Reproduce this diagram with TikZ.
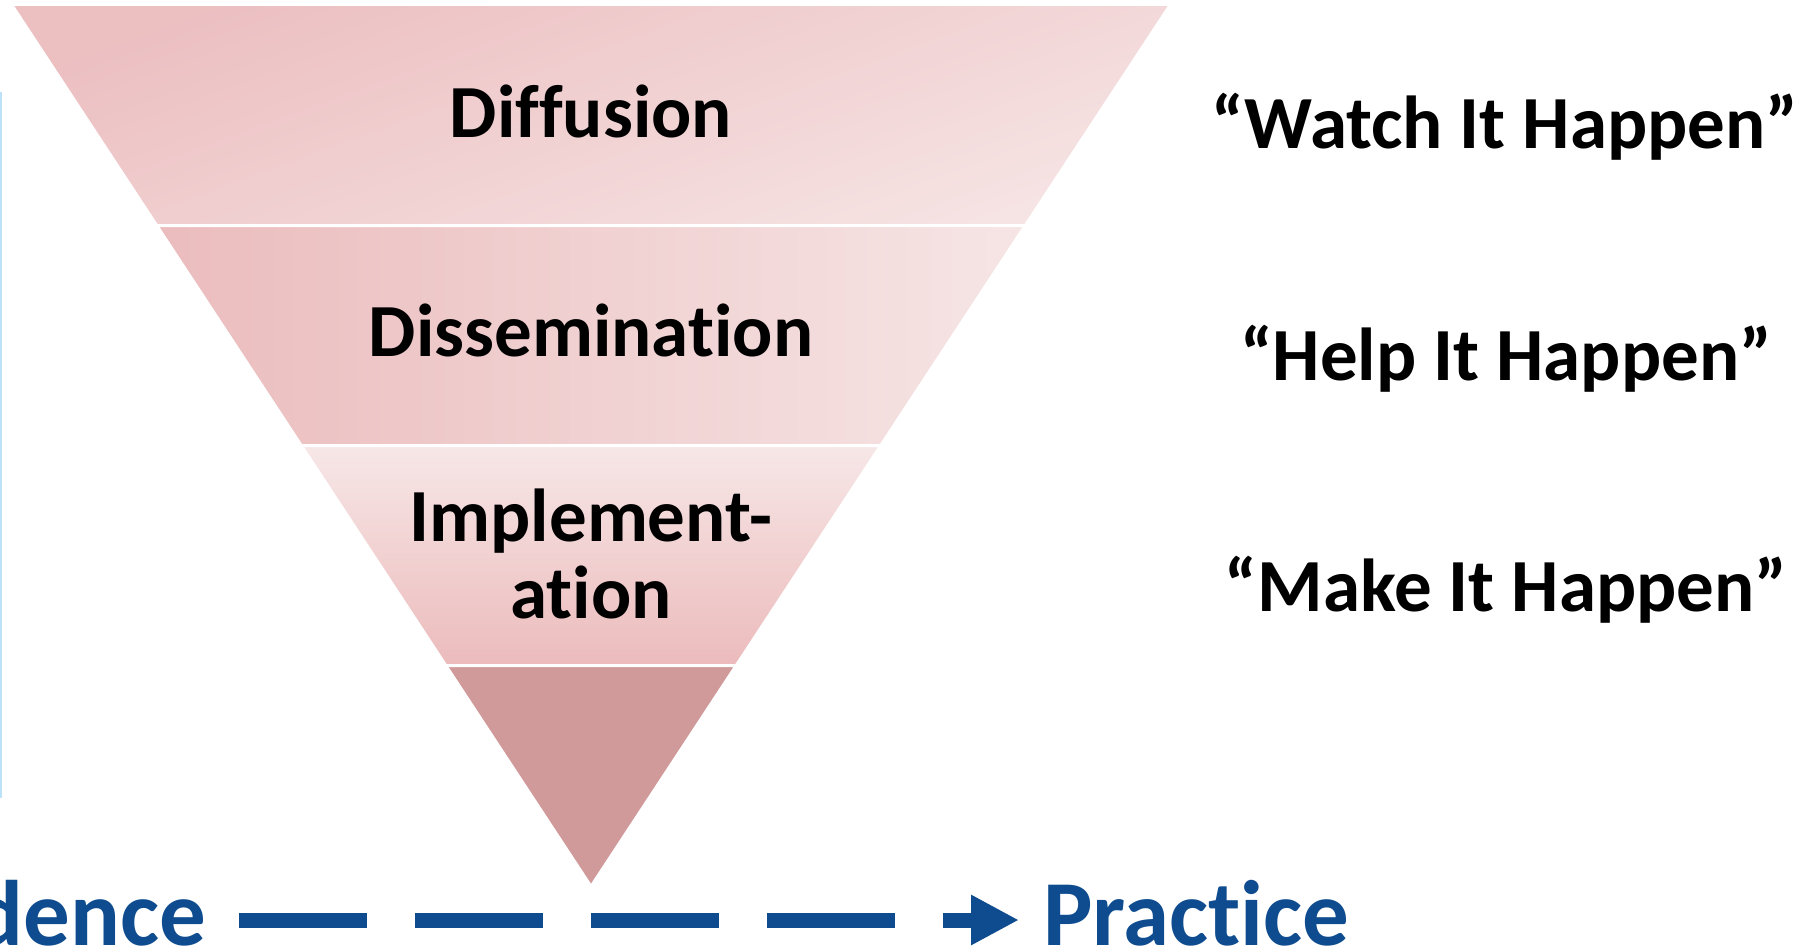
\documentclass[tikz,border=0pt]{standalone}
\usepackage{fontspec}
\setmainfont{Carlito}[Ligatures = NoCommon]
\usetikzlibrary{arrows.meta}

\definecolor{diffA}{HTML}{ECBFC1}
\definecolor{diffB}{HTML}{F6E3E3}
\definecolor{dissA}{HTML}{EBBCBD}
\definecolor{dissB}{HTML}{F6E5E5}
\definecolor{implA}{HTML}{F7E7E7}
\definecolor{implB}{HTML}{ECBBBC}
\definecolor{tipfill}{HTML}{D19A9A}
\definecolor{evblue}{HTML}{0E4C8F}
\definecolor{edgeblue}{HTML}{BCE2F9}

\begin{document}
\begin{tikzpicture}[
            x = 1pt, y = -1pt, % pixel grid, y going down
            > = {Triangle[length=48pt, width=47pt]}, % arrow head style
            line join = miter
        ]

        \tikzstyle{band}=[
            draw = white,
            line width = 3pt
        ]
        \tikzstyle{level}=[
            font = \fontsize{75pt}{77pt}\selectfont\bfseries,
            align = center,
            inner sep = 0pt
        ]
        \tikzstyle{slogan}=[
            font = \fontsize{75pt}{75pt}\selectfont\bfseries,
            inner sep = 0pt
        ]
        \tikzstyle{axis}=[
            font = \fontsize{93pt}{93pt}\selectfont\bfseries,
            text = evblue,
            inner sep = 0pt
        ]
        \tikzstyle{flow}=[
            ->,
            draw = evblue,
            line width = 15pt,
            dash pattern = on 128pt off 48pt
        ]

        \useasboundingbox (0,0) rectangle (1819,950);

        % funnel bands
        \draw[band, top color = diffA, bottom color = diffB, shading angle = 20]
            (11.5,4.5) -- (1170.5,4.5) -- (1025.3,225.5) -- (156.7,225.5) -- cycle;
        \draw[band, left color = dissA, right color = dissB]
            (156.7,225.5) -- (1025.3,225.5) -- (880.75,445.5) -- (301.25,445.5) -- cycle;
        \draw[band, top color = implA, bottom color = implB]
            (301.25,445.5) -- (880.75,445.5) -- (736.2,665.5) -- (445.8,665.5) -- cycle;
        \draw[band, fill = tipfill]
            (445.8,665.5) -- (736.2,665.5) -- (591,886.5) -- cycle;

        % thin edge on the left
        \draw[edgeblue, line width = 1.5pt] (0.75,92) -- (0.75,798);

        \node[level, anchor = base] (diffusion) at (591,137) {Diffusion};
        \node[level, anchor = base] (dissemination) at (591,356) {Dissemination};
        \node[level] (implementation) at (591,554) {Implement-\\ation};

        \node[slogan, anchor = base] (watch) at (1505,148) {“Watch It Happen”};
        \node[slogan, anchor = base] (help) at (1506,380) {“Help It Happen”};
        \node[slogan, anchor = base] (make) at (1506,611) {“Make It Happen”};

        \node[axis, anchor = base east] (evidence) at (206,945) {Evidence};
        \node[axis, anchor = base west] (practice) at (1043,945) {Practice};

        \draw[flow] ([xshift=33pt, yshift=25pt]evidence.base east)
            -- ([xshift=-24pt, yshift=25pt]practice.base west);

  \end{tikzpicture}
\end{document}
